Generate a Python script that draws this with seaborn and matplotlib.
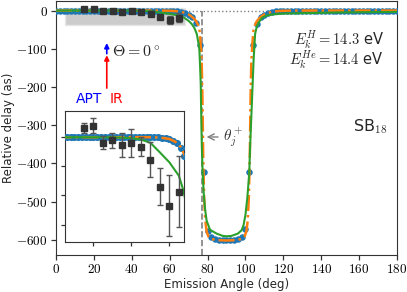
import numpy as np
import matplotlib
matplotlib.use('Agg')
import matplotlib.pyplot as plt
from matplotlib.patches import Rectangle
from matplotlib.ticker import FuncFormatter
import seaborn as sns

# theory dots (blue), every 2 deg
angle_dots = np.arange(0, 181, 2)
delay_dots = [0]*28 + [-0.2, -0.4, -0.7, -1.2, -2.1, -3.6, -6.3, -11, -18, -32, -90,
                       -423, -578, -594, -599, -601, -602, -602, -602, -601, -599, -594,
                       -572, -423, -90, -36, -17, -11, -6.3, -3.6, -2.1, -1.2, -0.7,
                       -0.4, -0.2] + [0]*28

# orange dash-dot curve
angle_or = [0, 20, 40, 50, 55, 60, 63, 66, 68, 70, 72, 73, 74, 75, 75.7, 76.3, 76.9,
            77.3, 77.7, 78.2, 78.8, 79.5, 80.5, 82, 85, 90, 95, 98, 99.5, 100.5, 101.2,
            101.8, 102.3, 102.7, 103.1, 103.7, 104.3, 105, 106, 107, 108, 110, 112,
            114, 117, 120, 125, 130, 180]
delay_or = [0, 0, 0, 0, -0.1, -0.6, -1.5, -3.3, -6, -10, -17, -22, -28, -38, -48, -85,
            -135, -230, -380, -490, -550, -578, -592, -598, -601, -602, -601, -598,
            -592, -578, -550, -490, -380, -230, -135, -85, -48, -38, -28, -22, -17,
            -10, -6, -3.3, -1.5, -0.6, -0.1, 0, 0]

# green solid curve
angle_gr = [0, 30, 40, 45, 50, 55, 60, 65, 67.5, 70, 71.6, 73, 74.3, 75.2, 75.7, 76.1,
            76.4, 76.7, 77, 77.4, 78, 78.7, 79.5, 81.3, 84.8, 88, 90, 92.6, 96, 98, 99,
            100, 101, 102, 102.6, 103.5, 104.3, 105.1, 106, 107.7, 109, 111.2, 115,
            120, 130, 150, 180]
delay_gr = [0, 0, -0.3, -0.8, -1.9, -5.2, -8.6, -13.2, -18.4, -27, -35, -45, -61, -85,
            -104, -150, -191, -287, -360, -422, -480, -520, -550, -574, -584, -590,
            -591, -590, -584, -575, -562, -535, -490, -426, -339, -230, -130, -61,
            -42, -26, -18, -13, -10, -8, -7, -5, -3.5]

# measured points
angle_exp = [15, 20, 25, 30, 35, 40, 45, 50, 55, 60, 65]
delay_exp = [3.1, 4.0, -1.9, -1.1, -2.6, -2.1, -3.2, -7.8, -17, -23.6, -18.7]
err_exp = [1.8, 2.5, 2.2, 2.7, 4.2, 4.8, 3.4, 6.0, 6.3, 10.5, 12.3]

theta_j = 77.2

sns.set_style('ticks')
plt.rcParams['font.family'] = ['DejaVu Sans']
plt.rcParams['mathtext.fontset'] = 'cm'
plt.rcParams['axes.edgecolor'] = '#333333'
plt.rcParams['xtick.color'] = '#333333'
plt.rcParams['ytick.color'] = '#333333'
plt.rcParams['xtick.labelcolor'] = 'black'
plt.rcParams['ytick.labelcolor'] = 'black'

fig = plt.figure(figsize=(4.07, 2.92), dpi=100)
ax = fig.add_axes([0.1376, 0.1267, 0.8378, 0.8699])


def draw_curves(a, ms):
    sns.scatterplot(x=angle_dots, y=delay_dots, ax=a, color='C0', s=ms, linewidth=0,
                    zorder=3)
    sns.lineplot(x=angle_or, y=delay_or, ax=a, color='C1', linestyle='-.', lw=1.8,
                 estimator=None, zorder=4)
    sns.lineplot(x=angle_gr, y=delay_gr, ax=a, color='C2', lw=1.5, estimator=None,
                 zorder=5)
    a.errorbar(angle_exp, delay_exp, yerr=err_exp, fmt='s', color='#333333',
               ecolor='#555555', ms=4.5, capsize=2.5, elinewidth=1, zorder=6)


ax.add_patch(Rectangle((5, -37), 63, 43, facecolor='0.8', edgecolor='0.9', lw=1,
                       zorder=1))
ax.axhline(0, color='0.5', ls=':', lw=1, zorder=2)
ax.vlines(theta_j, -640, 0, color='0.5', ls='--', lw=1.2, zorder=2)
draw_curves(ax, 22)

ax.set_xlim(0, 180)
ax.set_ylim(-640, 25)
ax.set_xticks(range(0, 181, 20))
ax.set_yticks(range(-600, 1, 100))
fmt = FuncFormatter(lambda v, p: f'${v:g}$')
ax.xaxis.set_major_formatter(fmt)
ax.yaxis.set_major_formatter(fmt)
ax.tick_params(labelsize=9.5, length=3.5, width=0.9, pad=2.5)
ax.set_xlabel('Emission Angle (deg)', fontsize=8.5, labelpad=1)
ax.set_ylabel('Relative delay (as)', fontsize=8.5, labelpad=1)

# polarisation arrows and labels
ax.annotate('', xy=(26.8, -117), xytext=(26.8, -203),
            arrowprops=dict(arrowstyle='-|>', color='red', lw=1.2, mutation_scale=7,
                            shrinkA=0, shrinkB=0))
ax.annotate('', xy=(26.8, -85), xytext=(26.8, -113),
            arrowprops=dict(arrowstyle='-|>', color='blue', lw=1.2, mutation_scale=7,
                            shrinkA=0, shrinkB=0))
ax.text(29.5, -110, r'$\Theta=0^\circ$', fontsize=11.5, va='center', ha='left')
ax.text(10.6, -243, 'APT', color='blue', fontsize=10, va='baseline', ha='left')
ax.text(28.5, -243, 'IR', color='red', fontsize=10, va='baseline', ha='left')

ax.annotate(r'$\theta_j^+$', xy=(79.5, -331), xytext=(88, -331), va='center',
            ha='left', fontsize=11, color='#333333',
            arrowprops=dict(arrowstyle='->', color='0.5', lw=1, shrinkA=1, shrinkB=0))

ax.text(173, -76, r'$E_k^H=14.3$ eV', fontsize=10.5, ha='right', va='center')
ax.text(173, -130, r'$E_k^{He}=14.4$ eV', fontsize=10.5, ha='right', va='center')
ax.text(175, -305, r'SB$_{18}$', fontsize=11.5, ha='right', va='center')

# zoomed inset
axin = fig.add_axes([0.1597, 0.1712, 0.2936, 0.4486])
draw_curves(axin, 26)
axin.set_xlim(5, 68)
axin.set_ylim(-36, 9)
axin.set_xticks([20, 40, 60])
axin.set_yticks([0, -10, -20, -30])
axin.set_xticklabels([])
axin.set_yticklabels([])
axin.tick_params(length=3, width=0.9)
axin.set_xlabel('')
axin.set_ylabel('')

fig.savefig('out.png', dpi=100)
